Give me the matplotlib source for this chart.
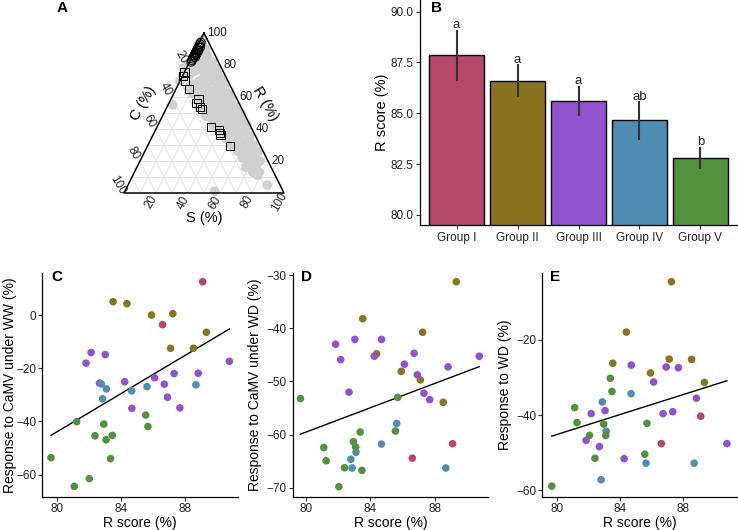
import numpy as np
import matplotlib
matplotlib.use('Agg')
import matplotlib.pyplot as plt

plt.rcParams['font.family'] = ['Liberation Sans', 'DejaVu Sans']

# ---------------- Panel A: ternary (R, C in %, S = 100 - R - C) ----------------
grey_R = [96, 94, 94, 92, 92, 90, 90, 88, 88, 86, 86, 86, 84, 84, 82, 82, 82,
          80, 80, 80, 78, 78, 78, 78, 76, 76, 76, 74, 74, 74, 72, 72, 72,
          70, 70, 70, 70, 68, 68, 68, 66, 66, 66, 66, 64, 64, 64, 62, 62, 62, 62,
          60, 60, 60, 58, 58, 58, 58, 56, 56, 56, 54, 54, 54, 54, 52, 52, 52,
          50, 50, 50, 50, 48, 48, 48, 48, 46, 46, 46, 46, 44, 44, 44, 42, 42, 42, 42,
          40, 40, 40, 38, 38, 38, 36, 36, 36, 34, 34, 34, 32, 32, 30, 30, 30,
          28, 28, 26, 26, 26, 24, 24, 22, 22, 20, 20, 18, 18, 16, 16, 13, 13, 11,
          5, 55, 1, 73]
grey_C = [3, 4, 6, 5, 8, 4, 9, 6, 11, 5, 9, 13, 7, 14, 4, 10, 16,
          6, 12, 20, 3, 9, 15, 24, 6, 12, 18, 4, 10, 22, 7, 14, 27,
          3, 11, 18, 30, 6, 15, 23, 4, 9, 20, 27, 7, 13, 24, 3, 10, 18, 26,
          6, 14, 22, 4, 9, 17, 25, 7, 13, 21, 3, 11, 18, 26, 6, 15, 22,
          2, 9, 13, 20, 5, 12, 18, 25, 3, 8, 15, 22, 6, 11, 19, 2, 9, 16, 23,
          4, 12, 19, 7, 14, 21, 3, 10, 17, 5, 12, 19, 8, 15, 4, 11, 18,
          7, 14, 3, 10, 16, 6, 12, 9, 15, 5, 12, 8, 14, 10, 16, 9, 13, 11,
          8, 42, 43, 27]
sq_R = [75.6, 73.1, 70.0, 65.0, 56.3, 58.8, 53.8, 52.5, 41.3, 39.4, 37.5, 36.3, 29.4]
sq_C = [24.4, 26.6, 26.9, 26.9, 26.3, 23.8, 25.6, 25.0, 25.0, 20.9, 21.3, 21.3, 19.0]
circ_R = [94, 93, 92, 91, 91, 90, 89, 89, 88, 87, 87, 86, 85, 85, 84, 83, 82]
circ_C = [5, 6, 7, 7, 8, 9, 9, 10, 11, 11, 12, 13, 13, 14, 15, 16, 17]

# ---------------- Panel B ----------------
groups = ['Group I', 'Group II', 'Group III', 'Group IV', 'Group V']
r_mean = [87.85, 86.6, 85.6, 84.65, 82.8]
r_err = [1.25, 0.8, 0.75, 0.95, 0.55]
letters = ['a', 'a', 'a', 'ab', 'b']
group_colors = ['#B3486A', '#8A7421', '#9152CE', '#4F8DB3', '#52923F']

# ---------------- Panels C-E ----------------
grp = ([0] * 2 + [1] * 7 + [2] * 13 + [3] * 6 + [4] * 11)
r_score = [86.6, 89.1,
           83.52, 84.38, 85.91, 87.10, 87.24, 88.52, 89.33,
           81.83, 82.15, 82.67, 83.03, 84.24, 84.69, 86.11, 86.71, 86.91, 87.32, 87.68, 88.82, 90.76,
           82.78, 82.86, 83.10, 84.68, 85.63, 88.68,
           79.65, 81.10, 81.25, 82.04, 82.39, 82.94, 83.08, 83.36, 83.47, 85.55, 85.69]
camv_ww = [-3.6, 12.5,
           5.0, 4.25, 0.0, -12.5, 0.5, -12.5, -6.5,
           -18.1, -14.1, -25.6, -14.9, -25.1, -35.1, -23.6, -26.0, -30.9, -22.0, -34.9, -21.9, -17.4,
           -25.9, -31.5, -27.75, -28.5, -26.9, -26.25,
           -53.6, -64.4, -40.1, -61.5, -45.4, -41.0, -46.9, -54.0, -45.25, -37.6, -41.9]
camv_wd = [-64.4, -61.7,
           -38.2, -44.8, -48.1, -49.7, -40.75, -53.9, -31.25,
           -43.0, -45.9, -52.0, -42.1, -45.25, -42.1, -46.75, -44.7, -48.75, -52.2, -53.4, -47.25, -45.25,
           -64.6, -66.25, -63.3, -61.75, -57.9, -66.25,
           -53.2, -62.4, -64.9, -69.75, -66.2, -61.3, -62.3, -59.5, -66.7, -59.3, -53.0]
resp_wd = [-47.6, -40.3,
           -26.2, -17.9, -28.8, -25.1, -4.5, -25.2, -31.3,
           -46.7, -39.6, -48.4, -38.8, -51.6, -26.7, -31.2, -39.6, -27.2, -39.1, -27.4, -35.5, -47.6,
           -57.2, -36.5, -44.3, -34.3, -52.8, -52.8,
           -58.9, -38.0, -42.0, -45.4, -51.5, -42.4, -45.4, -30.2, -33.7, -50.4, -42.2]

W, H = 738, 530
fig = plt.figure(figsize=(W / 100, H / 100), dpi=100)


def box(left, top, right, bottom):
    return [left / W, 1 - bottom / H, (right - left) / W, (bottom - top) / H]


TXT = '#222222'


def style(ax, pad=2):
    for s in ['top', 'right']:
        ax.spines[s].set_visible(False)
    for s in ['left', 'bottom']:
        ax.spines[s].set_linewidth(0.9)
        ax.spines[s].set_color('black')
    ax.tick_params(axis='both', length=3, width=0.8, color='#333333',
                   labelsize=8.5, labelcolor=TXT, pad=pad)


# ---- Panel A ----
axA = fig.add_axes(box(124, 33, 284, 193))
axA.set_xlim(0, 100)
axA.set_ylim(0, 100)
axA.axis('off')


def tern(R, C):
    R = np.asarray(R, float)
    C = np.asarray(C, float)
    S = 100 - R - C
    return S + R / 2, R


gl = dict(color='#E3E3E3', lw=0.7, zorder=1)
for k in range(10, 100, 10):
    x0, y0 = tern(k, 100 - k); x1, y1 = tern(k, 0)
    axA.plot([x0, x1], [y0, y1], **gl)
    x0, y0 = tern(0, k); x1, y1 = tern(100 - k, k)
    axA.plot([x0, x1], [y0, y1], **gl)
    x0, y0 = tern(0, 100 - k); x1, y1 = tern(100 - k, 0)
    axA.plot([x0, x1], [y0, y1], **gl)

tx, ty = tern([100, 0, 0, 100], [0, 100, 0, 0])
axA.plot(tx, ty, color='black', lw=1.1, zorder=5, clip_on=False)

gx, gy = tern(grey_R, grey_C)
axA.scatter(gx, gy, s=48, color='#D0D0D0', edgecolors='none', zorder=2, clip_on=False)
sx, sy = tern(sq_R, sq_C)
axA.scatter(sx, sy, s=40, marker='s', facecolors='none', edgecolors='black',
            linewidths=0.7, zorder=3, clip_on=False)
cx, cy = tern(circ_R, circ_C)
axA.scatter(cx, cy, s=40, marker='o', facecolors='none', edgecolors='black',
            linewidths=0.7, zorder=3, clip_on=False)

for v in [20, 40, 60, 80, 100]:
    x, y = tern(v, 0)
    axA.text(x + 2.2, y, str(v), ha='left', va='center', fontsize=8.5, color=TXT, clip_on=False)
    x, y = tern(100 - v, v)
    axA.text(x - 4.0, y + 5.0, str(v), ha='center', va='center', fontsize=8.5, color=TXT,
             rotation=-60, clip_on=False)
    x, y = tern(0, 100 - v)
    axA.text(x - 3.0, y - 5.8, str(v), ha='center', va='center', fontsize=8.5, color=TXT,
             rotation=60, clip_on=False)

axA.text(12.1, 56.1, 'C (%)', rotation=60, ha='center', va='center', fontsize=10.5, clip_on=False)
axA.text(88.1, 56.1, 'R (%)', rotation=-60, ha='center', va='center', fontsize=10.5, clip_on=False)
axA.text(50, -15.5, 'S (%)', ha='center', va='center', fontsize=10.5, clip_on=False)

fig.text(62 / W, 1 - 8 / H, 'A', fontsize=11, fontweight='bold', ha='center', va='center')

# ---- Panel B ----
axB = fig.add_axes(box(420, 0, 737, 225.3))
style(axB)
xb = np.arange(len(groups))
axB.bar(xb, r_mean, width=0.9, color=group_colors, edgecolor='black', linewidth=1.0, zorder=2)
axB.errorbar(xb, r_mean, yerr=r_err, fmt='none', ecolor='#333333', elinewidth=1.5,
             capsize=0, zorder=3)
for i in range(len(groups)):
    axB.text(xb[i], r_mean[i] + r_err[i] + 0.07, letters[i], ha='center', va='baseline',
             fontsize=9.5, color=TXT, zorder=4)
axB.set_xlim(-0.6, 4.6)
axB.set_ylim(79.49, 90.57)
axB.set_yticks([80.0, 82.5, 85.0, 87.5, 90.0])
axB.set_yticklabels(['80.0', '82.5', '85.0', '87.5', '90.0'])
axB.set_xticks(xb)
axB.set_xticklabels(groups)
axB.set_ylabel('R score (%)', fontsize=10.5)
axB.yaxis.set_label_coords(-0.099, 0.5)
fig.text(437 / W, 1 - 8 / H, 'B', fontsize=11, fontweight='bold', ha='center', va='center')

# ---- Panels C, D, E ----
pt_colors = [group_colors[g] for g in grp]
rs = np.array(r_score)

panels = [
    ('C', camv_ww, 'Response to CaMV under WW (%)', box(42, 272.7, 238, 497),
     (79.09, 91.3), (-68.4, 15.9), [-60, -40, -20, 0], 57, -0.128),
    ('D', camv_wd, 'Response to CaMV under WD (%)', box(292.7, 272.7, 488, 497),
     (79.17, 91.3), (-71.7, -29.56), [-70, -60, -50, -40, -30], 307, -0.157),
    ('E', resp_wd, 'Response to WD (%)', box(542.3, 272.7, 737, 497),
     (79.05, 91.4), (-61.8, -2.1), [-60, -40, -20], 555, -0.156),
]

for lab, yv, ylab, rect, xl, yl, yt, lx, ylc in panels:
    ax = fig.add_axes(rect)
    style(ax, pad=1.2)
    yv = np.array(yv)
    ax.scatter(rs, yv, s=30, c=pt_colors, edgecolors='none', zorder=3)
    b1, b0 = np.polyfit(rs, yv, 1)
    xx = np.array([rs.min(), rs.max()])
    ax.plot(xx, b0 + b1 * xx, color='black', lw=1.0, zorder=2)
    ax.set_xlim(*xl)
    ax.set_ylim(*yl)
    ax.set_xticks([80, 84, 88])
    ax.set_yticks(yt)
    ax.set_yticklabels([str(t).replace('-', '\u2212') for t in yt])
    ax.set_xlabel('R score (%)', fontsize=10)
    ax.xaxis.set_label_coords(0.5, -0.085)
    ax.set_ylabel(ylab, fontsize=10)
    ax.yaxis.set_label_coords(ylc, 0.5)
    fig.text(lx / W, 1 - 277 / H, lab, fontsize=11, fontweight='bold', ha='center', va='center')

fig.savefig('out.png', dpi=100, facecolor='white')
